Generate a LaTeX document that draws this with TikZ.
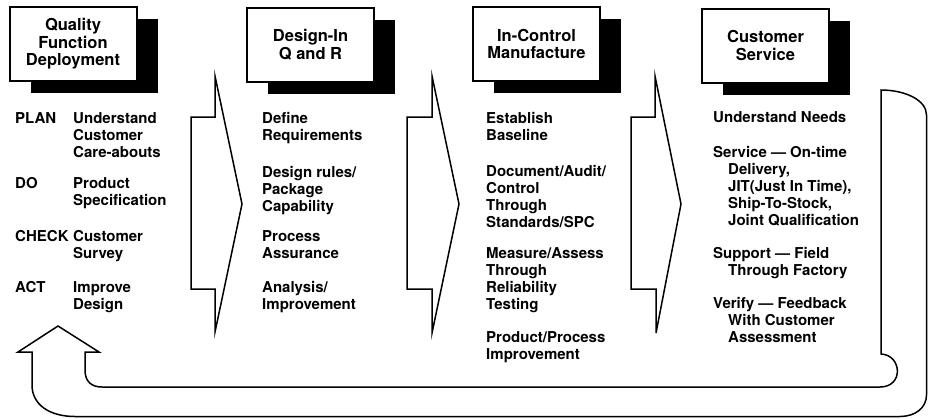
\documentclass[tikz,border=0pt]{standalone}
\usepackage{fontspec}
\setmainfont{TeX Gyre Heros}
\usetikzlibrary{shadows}
\begin{document}
\begin{tikzpicture}[x=1pt,y=-1pt,
  titlebox/.style={draw, line width=2pt, fill=white, minimum width=127pt, minimum height=74pt,
    align=center, inner sep=0pt, font=\fontsize{16.5}{17.5}\selectfont\bfseries,
    drop shadow={opacity=1, fill=black, shadow xshift=21pt, shadow yshift=-12pt}},
  body/.style={anchor=base west, align=left, inner sep=0pt, font=\fontsize{15}{17}\selectfont\bfseries},
  blockarrow/.style={draw, line width=1.5pt, line join=miter},
  loop/.style={draw, line width=1.5pt, line join=miter}]
\useasboundingbox (0,0) rectangle (928,418);

% title boxes
\node[titlebox] (qfd) at (73,44) {Quality\\Function\\Deployment};
\node[titlebox] (dqr) at (310.5,44.5) {Design-In\\Q and R};
\node[titlebox] (icm) at (536.5,44) {In-Control\\Manufacture};
\node[titlebox] (cs)  at (765.5,45.5) {Customer\\Service};

% column 1 (node positions are the baseline of the LAST line)
\node[body] (l1) at (15,123.5) {PLAN};
\node[body] (t1) at (73,157.5) {Understand\\Customer\\Care-abouts};
\node[body] (l2) at (15,188.5) {DO};
\node[body] (t2) at (73,205.5) {Product\\Specification};
\node[body] (l3) at (15,241.5) {CHECK};
\node[body] (t3) at (73,258.5) {Customer\\Survey};
\node[body] (l4) at (15,292.5) {ACT};
\node[body] (t4) at (73,309.5) {Improve\\Design};

% column 2
\node[body] (d1) at (262,140.5) {Define\\Requirements};
\node[body] (d2) at (262,211.5) {Design rules/\\Package\\Capability};
\node[body] (d3) at (262,258.5) {Process\\Assurance};
\node[body] (d4) at (262,309.5) {Analysis/\\Improvement};

% column 3
\node[body] (m1) at (486,140.5) {Establish\\Baseline};
\node[body] (m2) at (486,227.5) {Document/Audit/\\Control\\Through\\Standards/SPC};
\node[body] (m3) at (486,309.5) {Measure/Assess\\Through\\Reliability\\Testing};
\node[body] (m4) at (486,359.5) {Product/Process\\Improvement};

% column 4
\node[body] (c1) at (713,122.5) {Understand Needs};
\node[body] (c2) at (713,225.5) {Service — On-time\\\hspace*{15pt}Delivery,\\\hspace*{15pt}JIT(Just In Time),\\\hspace*{15pt}Ship-To-Stock,\\\hspace*{15pt}Joint Qualification};
\node[body] (c3) at (713,275.5) {Support — Field\\\hspace*{15pt}Through Factory};
\node[body] (c4) at (713,342.5) {Verify — Feedback\\\hspace*{15pt}With Customer\\\hspace*{15pt}Assessment};

% block arrows between columns
\draw[blockarrow] (191,117) -- (215,117) -- (215,76) -- (242,204) -- (215,332) -- (215,289) -- (191,289) -- cycle;
\draw[blockarrow] (407,117) -- (432,117) -- (432,76) -- (459,204) -- (432,333) -- (432,289) -- (407,289) -- cycle;
\draw[blockarrow] (631,117) -- (655,117) -- (655,76) -- (681,204) -- (656,333) -- (656,289) -- (631,289) -- cycle;

% feedback loop arrow
\draw[loop] (881,90) -- (881,354) .. controls (902,355) and (904,387) .. (880,387)
  -- (102,387) .. controls (92,387) and (85,382) .. (85,370)
  -- (85,352) -- (99,352) -- (58,326) -- (18,352) -- (32,352)
  -- (32,385) .. controls (32,405) and (50,416.5) .. (75,416.5)
  -- (900,416.5) .. controls (915,416.5) and (926.5,408) .. (926.5,395)
  -- (926.5,115) .. controls (926.5,100) and (905,90) .. cycle;
\end{tikzpicture}
\end{document}
